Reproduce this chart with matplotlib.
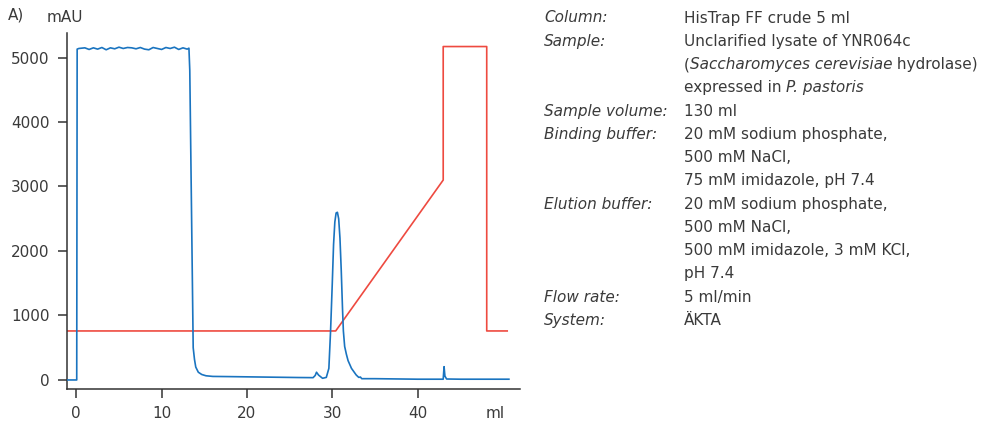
#!/usr/bin/env python3
"""
Chromatogram: HisTrap FF crude purification of unclarified lysate
"""

import matplotlib
matplotlib.use('Agg')
import matplotlib.pyplot as plt

# UV trace (blue), ml vs mAU
uv_ml = [-1.1, 0.05, 0.1, 0.3, 1.0, 1.5, 2.0, 2.5, 3.0, 3.5, 4.0, 4.5, 5.0, 5.5,
         6.0, 6.5, 7.0, 7.5, 8.0, 8.5, 9.0, 9.5, 10.0, 10.5, 11.0, 11.5, 12.0,
         12.5, 13.0, 13.2, 13.3, 13.7, 13.85, 14.0, 14.3, 14.7, 15.2, 16.0,
         18.0, 22.0, 26.0, 27.75, 28.0, 28.15, 28.4, 28.86, 29.3, 29.6, 29.8,
         30.0, 30.15, 30.3, 30.45, 30.6, 30.75, 30.9, 31.05, 31.2, 31.3, 31.45,
         31.65, 31.85, 32.25, 32.8, 33.1, 33.3, 33.45, 35.0, 40.0, 43.0, 43.1,
         43.2, 43.4, 45.0, 50.7]
uv_mau = [0, 0, 5130, 5140, 5150, 5125, 5150, 5130, 5155, 5120, 5150, 5135,
          5160, 5140, 5155, 5150, 5135, 5155, 5130, 5120, 5155, 5140, 5125,
          5155, 5140, 5160, 5125, 5150, 5130, 5145, 4800, 500, 320, 200, 120,
          85, 65, 55, 52, 45, 38, 36, 70, 120, 75, 26, 40, 180, 760, 1500,
          2100, 2450, 2590, 2600, 2500, 2200, 1700, 1100, 760, 520, 400, 300,
          180, 78, 40, 45, 20, 20, 12, 12, 206, 60, 15, 12, 12]

# gradient (red), plotted on the mAU scale
grad_ml = [-1.1, 30.4, 43.0, 43.0, 48.1, 48.1, 50.5]
grad_mau = [760, 760, 3100, 5170, 5170, 760, 760]

x_ticks = [0, 10, 20, 30, 40]
y_ticks = [0, 1000, 2000, 3000, 4000, 5000]

# method details: label, then lines made of (text, italic) pieces
details = [
    ('Column:', [[('HisTrap FF crude 5 ml', False)]]),
    ('Sample:', [[('Unclarified lysate of YNR064c', False)],
                 [('(', False), ('Saccharomyces cerevisiae', True), (' hydrolase)', False)],
                 [('expressed in ', False), ('P. pastoris', True)]]),
    ('Sample volume:', [[('130 ml', False)]]),
    ('Binding buffer:', [[('20 mM sodium phosphate,', False)],
                         [('500 mM NaCl,', False)],
                         [('75 mM imidazole, pH 7.4', False)]]),
    ('Elution buffer:', [[('20 mM sodium phosphate,', False)],
                         [('500 mM NaCl,', False)],
                         [('500 mM imidazole, 3 mM KCl,', False)],
                         [('pH 7.4', False)]]),
    ('Flow rate:', [[('5 ml/min', False)]]),
    ('System:', [[('ÄKTA', False)]]),
]

W, H = 990, 426
text_color = '#3a3a3a'
blue = '#1a74c0'
red = '#ee4a40'

plt.rcParams['font.family'] = ['DejaVu Sans']
fig = plt.figure(figsize=(W / 100, H / 100), dpi=100)
ax = fig.add_axes([67 / W, 1 - 389 / H, (520 - 67) / W, (389 - 33) / H])

ax.plot(grad_ml, grad_mau, color=red, lw=1.2, zorder=2)
ax.plot(uv_ml, uv_mau, color=blue, lw=1.2, zorder=3)

ax.set_xlim(-1.09, 52.0)
ax.set_ylim(-140, 5380)
ax.set_xticks(x_ticks)
ax.set_yticks(y_ticks)
for side in ('top', 'right'):
    ax.spines[side].set_visible(False)
for side in ('left', 'bottom'):
    ax.spines[side].set_color('#333333')
    ax.spines[side].set_linewidth(1.1)
ax.tick_params(direction='out', length=6.5, width=1.1, color='#333333',
               labelsize=11, labelcolor=text_color, pad=6)

# axis captions
fig.text(8 / W, 1 - 15 / H, 'A)', fontsize=11, color=text_color, va='center')
fig.text(47 / W, 1 - 18 / H, 'mAU', fontsize=11, color=text_color, va='center')
fig.text(505 / W, 1 - 413 / H, 'ml', fontsize=11, color=text_color,
         va='center', ha='right')

# details block on the right
label_x = 544 / W
value_x = 684 / W
base_y = 22.5
step = 23.27
row = 0
for label, lines in details:
    fig.text(label_x, 1 - (base_y + step * row) / H, label, fontsize=11,
             style='italic', color=text_color, va='baseline')
    for pieces in lines:
        prev = None
        for txt, ital in pieces:
            st = 'italic' if ital else 'normal'
            if prev is None:
                prev = fig.text(value_x, 1 - (base_y + step * row) / H, txt,
                                fontsize=11, style=st, color=text_color,
                                va='baseline')
            else:
                prev = ax.annotate(txt, xy=(1, 0), xycoords=prev, fontsize=11,
                                   style=st, color=text_color, va='bottom',
                                   ha='left', annotation_clip=False)
        row += 1

fig.savefig('out.png', dpi=100, facecolor='white')
plt.close(fig)
